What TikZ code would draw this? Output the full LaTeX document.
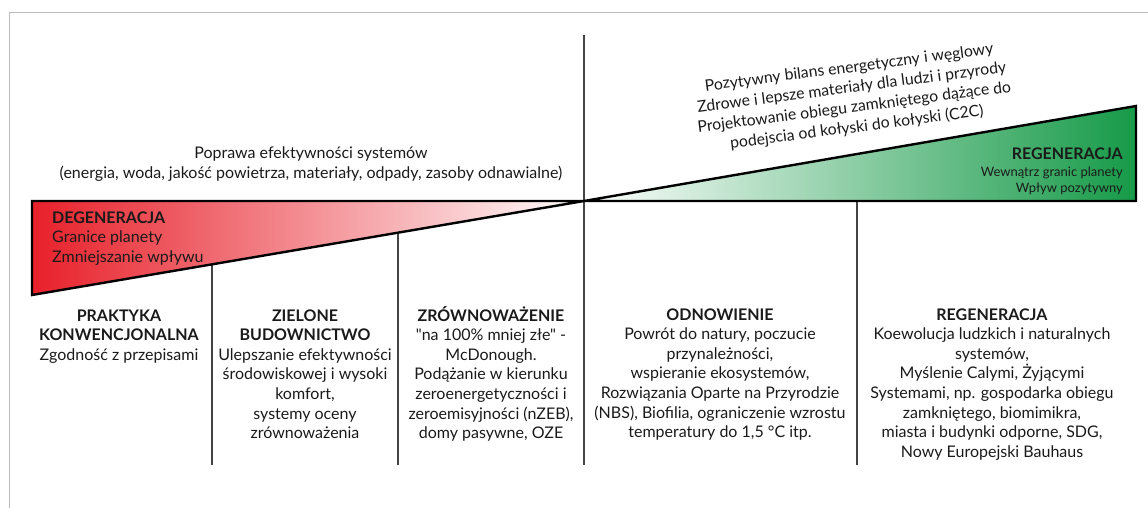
\documentclass[tikz,border=0pt]{standalone}
\usepackage{fontspec}
\setmainfont{Lato}[Ligatures=TeXOff]
\definecolor{ink}{HTML}{1A1A1A}
\definecolor{degred}{HTML}{E8202A}
\definecolor{reggreen}{HTML}{169A48}
\definecolor{framegray}{HTML}{BBBBBB}
\definecolor{divgray}{HTML}{444444}
\tikzset{
  frameline/.style={draw=framegray, line width=0.9pt},
  divider/.style={draw=divgray, line width=1.2pt},
  wedge/.style={draw=black, line width=2.4pt, line join=miter},
  % multi-line nodes: the base anchor sits on the baseline of the last line
  coltext/.style={anchor=base, align=center, inner sep=0pt, text=ink,
    font=\fontsize{16}{19.6}\selectfont},
  intext/.style={anchor=base west, align=left, inner sep=0pt, text=ink,
    font=\fontsize{16}{19.5}\selectfont},
  rtext/.style={anchor=base east, align=right, inner sep=0pt, text=ink,
    font=\fontsize{13}{16}\selectfont},
  toptext/.style={anchor=base, align=center, inner sep=0pt, text=ink,
    font=\fontsize{16}{20}\selectfont},
  slanttext/.style={anchor=center, align=center, inner sep=0pt, text=ink,
    rotate=7.4, font=\fontsize{15.8}{20}\selectfont}
}
\begin{document}
\begin{tikzpicture}[x=1pt, y=-1pt]
\useasboundingbox (0,0) rectangle (1148,508);

% outer frame (top and left edges)
\draw[frameline] (1148,12.5) -- (9.5,12.5) -- (9.5,508);

% key points of the two wedges
\coordinate (tl) at (32,201);
\coordinate (bl) at (32,295);
\coordinate (apex) at (584,201);
\coordinate (tr) at (1136,106);
\coordinate (br) at (1136,201);

% shaded wedges
\shade[left color=degred, right color=white] (tl) -- (apex) -- (bl) -- cycle;
\shade[left color=white, right color=reggreen] (apex) -- (tr) -- (br) -- cycle;

% column dividers
\draw[divider] (584,35) -- (584,465);
\draw[divider] (212,264.3) -- (212,465);
\draw[divider] (398,232.7) -- (398,465);
\draw[divider] (857,201) -- (857,465);

% wedge outlines
\draw[wedge] (apex) -- (tl) -- (bl) -- cycle;
\draw[wedge] (apex) -- (tr) -- (br) -- cycle;

% labels inside the wedges
\node[intext] (deg) at (52,262) {\textbf{DEGENERACJA}\\Granice planety\\Zmniejszanie wpływu};
\node[rtext] (regsub) at (1123,192) {Wewnątrz granic planety\\Wpływ pozytywny};
\node[anchor=base east, inner sep=0pt, text=ink, font=\fontsize{16}{16}\selectfont\bfseries] (reg) at (1123,160) {REGENERACJA};

% captions above the wedges
\node[toptext] (eff) at (311,178) {Poprawa efektywności systemów\\(energia, woda, jakość powietrza, materiały, odpady, zasoby odnawialne)};
\node[slanttext] (pos) at (853,98) {Pozytywny bilans energetyczny i węglowy\\Zdrowe i lepsze materiały dla ludzi i przyrody\\Projektowanie obiegu zamkniętego dążące do\\podejscia od kołyski do kołyski (C2C)};

% column descriptions
\node[coltext] (c1) at (119,360.2) {\textbf{PRAKTYKA}\\\textbf{KONWENCJONALNA}\\Zgodność z przepisami};
\node[coltext] (c2) at (305,438.6) {\textbf{ZIELONE}\\\textbf{BUDOWNICTWO}\\Ulepszanie efektywności\\środowiskowej i wysoki\\komfort,\\systemy oceny\\zrównoważenia};
\node[coltext] (c3) at (491,438.6) {\textbf{ZRÓWNOWAŻENIE}\\"na 100\% mniej złe" -\\McDonough.\\Podążanie w kierunku\\zeroenergetyczności i\\zeroemisyjności (nZEB),\\domy pasywne, OZE};
\node[coltext] (c4) at (720,437.6) {\textbf{ODNOWIENIE}\\Powrót do natury, poczucie\\przynależności,\\wspieranie ekosystemów,\\Rozwiązania Oparte na Przyrodzie\\(NBS), Biofilia, ograniczenie wzrostu\\temperatury do 1,5 °C itp.};
\node[coltext] (c5) at (992,457.2) {\textbf{REGENERACJA}\\Koewolucja ludzkich i naturalnych\\systemów,\\Myślenie Calymi, Żyjącymi\\Systemami, np. gospodarka obiegu\\zamkniętego, biomimikra,\\miasta i budynki odporne, SDG,\\Nowy Europejski Bauhaus};
\end{tikzpicture}
\end{document}
